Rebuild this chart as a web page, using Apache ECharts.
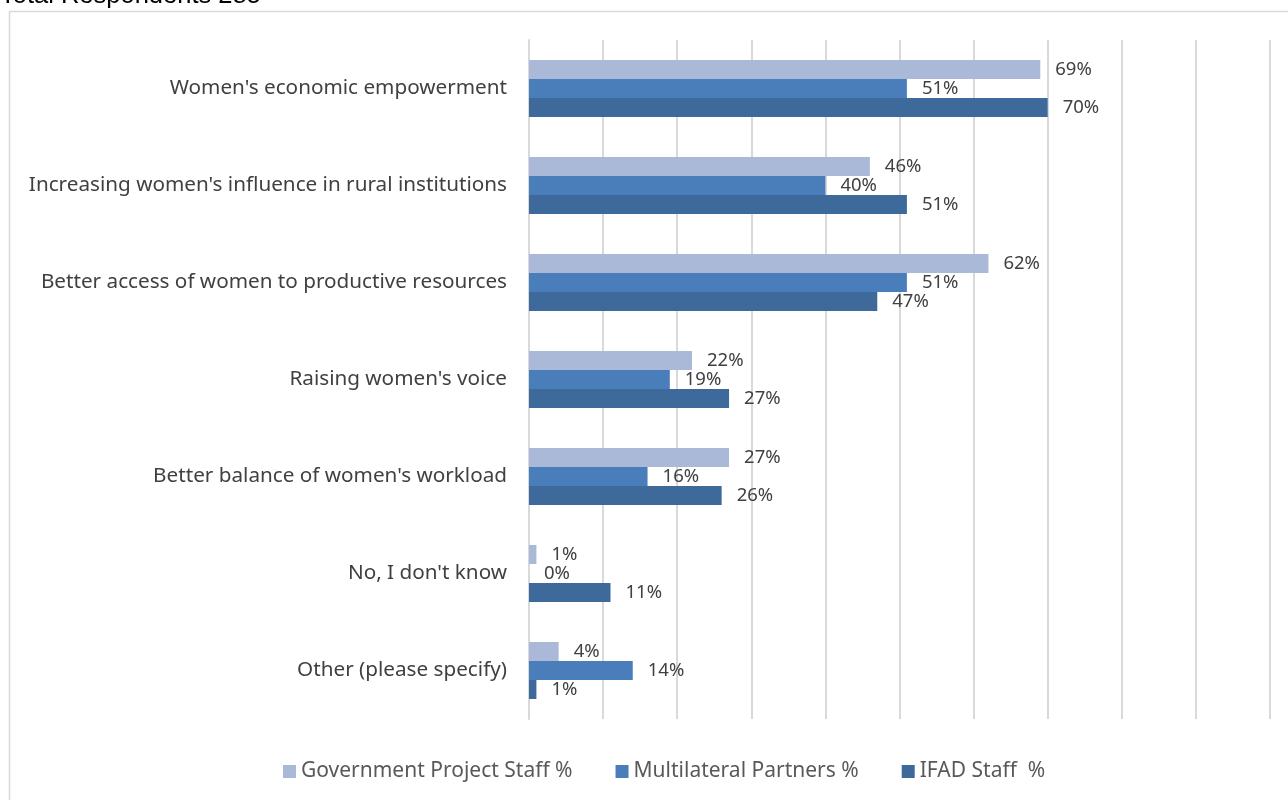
<!DOCTYPE html>
<html><head><meta charset="utf-8">
<script src="https://cdn.jsdelivr.net/npm/echarts@6/dist/echarts.min.js"></script>
<style>html,body{margin:0;padding:0;background:#fff}#c{width:1288px;height:800px}</style>
</head><body><div id="c"></div>
<script>
const categories = ["Women's economic empowerment","Increasing women's influence in rural institutions","Better access of women to productive resources","Raising women's voice","Better balance of women's workload","No, I don't know","Other (please specify)"];
const seriesNames = ["Government Project Staff %","Multilateral Partners %","IFAD Staff  %"];
const govValues = [69,46,62,22,27,1,4];
const multiValues = [51,40,51,19,16,0,14];
const ifadValues = [70,51,47,27,26,11,1];
const colors = ['#AAB9D7','#4A7EBB','#3E6A9B'];
const font = "'Noto Sans', sans-serif";
const chart = echarts.init(document.getElementById('c'));
const mk = (name, data, color) => ({
  name, type:'bar', data, barWidth:19, barGap:'0%',
  itemStyle:{color},
  label:{show:true, position:'right', distance:15, formatter:'{c}%', color:'#404040', fontSize:18.5, fontFamily:font},
  emphasis:{disabled:true}
});
chart.setOption({
  animation:false,
  graphic:[
    {type:'rect', shape:{x:9.5,y:11.5,width:1300,height:820}, style:{fill:'none', stroke:'#D9D9D9', lineWidth:1.5}},
    {type:'text', left:0, top:-17, style:{text:'Total Respondents 285', fontSize:25.5, fontFamily:'Liberation Sans, Arial', fill:'#000'}}
  ],
  grid:{left:529, right:18, top:40, bottom:81},
  legend:{bottom:13, left:278, itemWidth:13, itemHeight:13, itemGap:43, icon:'rect',
    textStyle:{fontSize:21, color:'#595959', fontFamily:font}, data:seriesNames},
  xAxis:{type:'value', min:0, max:100, interval:10, axisLabel:{show:false},
    splitLine:{lineStyle:{color:'#D9D9D9', width:2}}, axisLine:{show:false}, axisTick:{show:false}},
  yAxis:{type:'category', inverse:true, data:categories,
    axisLine:{show:true, lineStyle:{color:'#D9D9D9', width:2}}, axisTick:{show:false},
    axisLabel:{fontSize:20.7, color:'#404040', fontFamily:font, margin:22}},
  series:[mk(seriesNames[0],govValues,colors[0]), mk(seriesNames[1],multiValues,colors[1]), mk(seriesNames[2],ifadValues,colors[2])]
});
</script></body></html>
